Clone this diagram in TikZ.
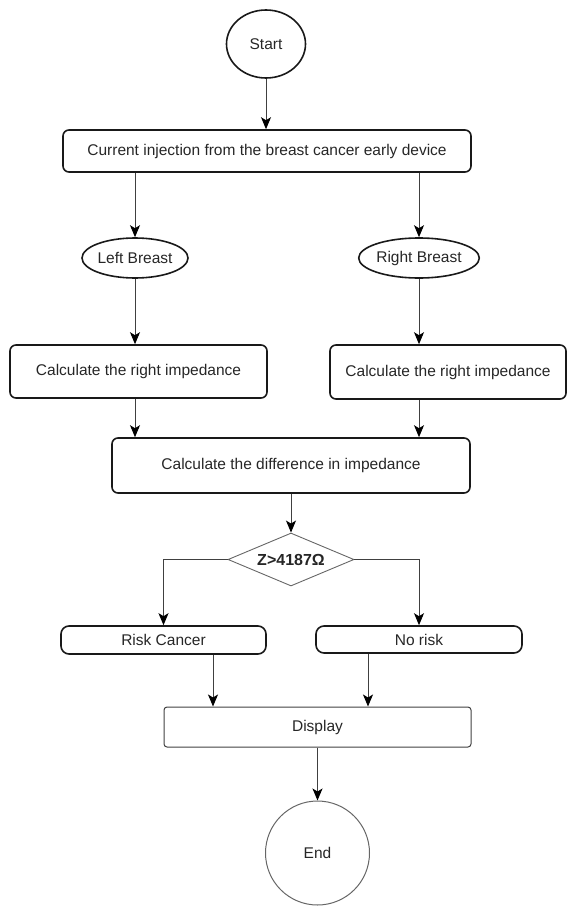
\documentclass[tikz,border=0pt]{standalone}
\usepackage{fontspec}
\setmainfont{Liberation Sans}
\usetikzlibrary{arrows.meta,shapes.geometric}

\begin{document}
\begin{tikzpicture}[x=1pt,y=-1pt,>={Stealth[length=12pt,width=10pt,inset=3pt,black]},
  every node/.style={font=\fontsize{15.5}{18}\selectfont,text=black!85,inner sep=0pt},
  box/.style={draw=black!90,rounded corners=6pt,line width=1.6pt},
  oval/.style={draw=black!90,ellipse,line width=1.6pt},
  flow/.style={->,line width=1pt,draw=black!75}]
  \useasboundingbox (0,0) rectangle (568,907);
  \node[oval,minimum width=79pt,minimum height=68pt] (start) at (266,44) {Start};
  \node[box,minimum width=408pt,minimum height=42pt] (inj) at (267,151) {Current injection from the breast cancer early device};
  \node[oval,minimum width=96pt,minimum height=40pt] (lb) at (135,258) {Left Breast};
  \node[oval,minimum width=104pt,minimum height=40pt] (rb) at (419,258) {Right Breast};
  \node[box,minimum width=257pt,minimum height=53pt] (calcl) at (138.5,371.5) {Calculate the right impedance};
  \node[box,minimum width=236pt,minimum height=54pt] (calcr) at (448,372) {Calculate the right impedance};
  \node[box,minimum width=358pt,minimum height=55pt] (diff) at (291,465.5) {Calculate the difference in impedance};
  \node[diamond,draw=black!60,line width=0.9pt,aspect=2.4,minimum width=126pt,minimum height=53pt,
    font=\fontsize{16}{18}\bfseries] (dia) at (291,559.5) {Z>4187Ω};
  \node[box,rounded corners=8pt,minimum width=205pt,minimum height=28pt] (risk) at (163.5,640) {Risk Cancer};
  \node[box,rounded corners=8pt,minimum width=206pt,minimum height=27pt] (norisk) at (419,639.5) {No risk};
  \node[draw=black!75,rounded corners=3pt,line width=1pt,minimum width=307pt,minimum height=40pt] (disp) at (317.5,727) {Display};
  \node[circle,draw=black!60,line width=1pt,minimum size=104pt] (end) at (317.5,853) {End};
  \draw[flow] (start) -- (start |- inj.north);
  \draw[flow] (inj.south -| lb) -- (lb.north);
  \draw[flow] (inj.south -| rb) -- (rb.north);
  \draw[flow] (lb.south) -- (lb.south |- calcl.north);
  \draw[flow] (rb.south) -- (rb.south |- calcr.north);
  \draw[flow] (calcl.south -| lb) -- (diff.north -| lb);
  \draw[flow] (calcr.south -| rb) -- (diff.north -| rb);
  \draw[flow] (diff.south -| dia) -- (dia.north);
  \draw[flow] (dia.west) -| (risk.north);
  \draw[flow] (dia.east) -| (norisk.north);
  \draw[flow] ([xshift=49.5pt]risk.south) -- ([xshift=49.5pt]risk.south |- disp.north);
  \draw[flow] ([xshift=-51pt]norisk.south) -- ([xshift=-51pt]norisk.south |- disp.north);
  \draw[flow] (disp.south -| end) -- (end.north);
\end{tikzpicture}
\end{document}
